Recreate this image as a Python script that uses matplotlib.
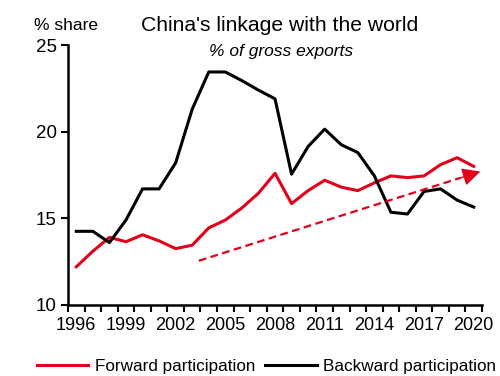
import matplotlib.pyplot as plt
from matplotlib.ticker import FixedLocator

plt.rcParams['font.family'] = ['Liberation Sans', 'DejaVu Sans']

# participation shares, % of gross exports
years = list(range(1996, 2021))
forward = [12.2, 13.1, 13.9, 13.65, 14.05, 13.7, 13.25, 13.45, 14.45, 14.9, 15.6, 16.45,
           17.6, 15.85, 16.6, 17.2, 16.8, 16.6, 17.05, 17.45, 17.35, 17.45, 18.1, 18.5, 18.0]
backward = [14.25, 14.25, 13.6, 14.9, 16.7, 16.7, 18.2, 21.3, 23.45, 23.45, 22.95, 22.4,
            21.9, 17.55, 19.15, 20.15, 19.25, 18.8, 17.45, 15.35, 15.25, 16.55, 16.7, 16.05, 15.65]
trend_x = [2003.4, 2020.4]
trend_y = [12.55, 17.7]

red = '#e2001a'

fig = plt.figure(figsize=(5, 3.76), dpi=100)
ax = fig.add_axes([0.136, 0.189, 0.828, 0.691])

ax.plot(years, forward, color=red, lw=2.2, label='Forward participation')
ax.plot(years, backward, color='black', lw=2.2, label='Backward participation')

# dashed trend line, solid filled head at the end
frac = 0.93
mid_x = trend_x[0] + frac * (trend_x[1] - trend_x[0])
mid_y = trend_y[0] + frac * (trend_y[1] - trend_y[0])
ax.plot([trend_x[0], mid_x], [trend_y[0], mid_y], color=red, lw=1.6, dashes=(3.5, 2))
ax.annotate('', xy=(trend_x[1], trend_y[1]), xytext=(mid_x, mid_y),
            arrowprops=dict(arrowstyle='-|>,head_length=1.1,head_width=0.55', color=red,
                            lw=1.0, shrinkA=0, shrinkB=0))

ax.set_xlim(1995.5, 2020.5)
ax.set_ylim(10, 25)
ax.set_xticks(years[::3])
ax.xaxis.set_minor_locator(FixedLocator([y + 0.5 for y in range(1995, 2021)]))
ax.set_yticks([10, 15, 20, 25])
ax.tick_params(axis='x', which='major', length=0, labelsize=13, pad=9)
ax.tick_params(axis='x', which='minor', length=5, width=1.5)
ax.tick_params(axis='y', length=5, width=1.5, labelsize=13.5, pad=3)

for side in ['top', 'right']:
    ax.spines[side].set_visible(False)
for side in ['left', 'bottom']:
    ax.spines[side].set_linewidth(1.8)

fig.text(0.56, 0.933, "China's linkage with the world", ha='center', va='center', fontsize=15.2)
fig.text(0.563, 0.862, '% of gross exports', ha='center', va='center', fontsize=12.5, style='italic')
fig.text(0.133, 0.933, '% share', ha='center', va='center', fontsize=12.5)

fig.legend(loc='center', bbox_to_anchor=(0.533, 0.025), ncol=2, frameon=False, fontsize=12.3,
           handlelength=3.0, handletextpad=0.4, columnspacing=0.6, borderaxespad=0)

fig.savefig('out.png', dpi=100)
